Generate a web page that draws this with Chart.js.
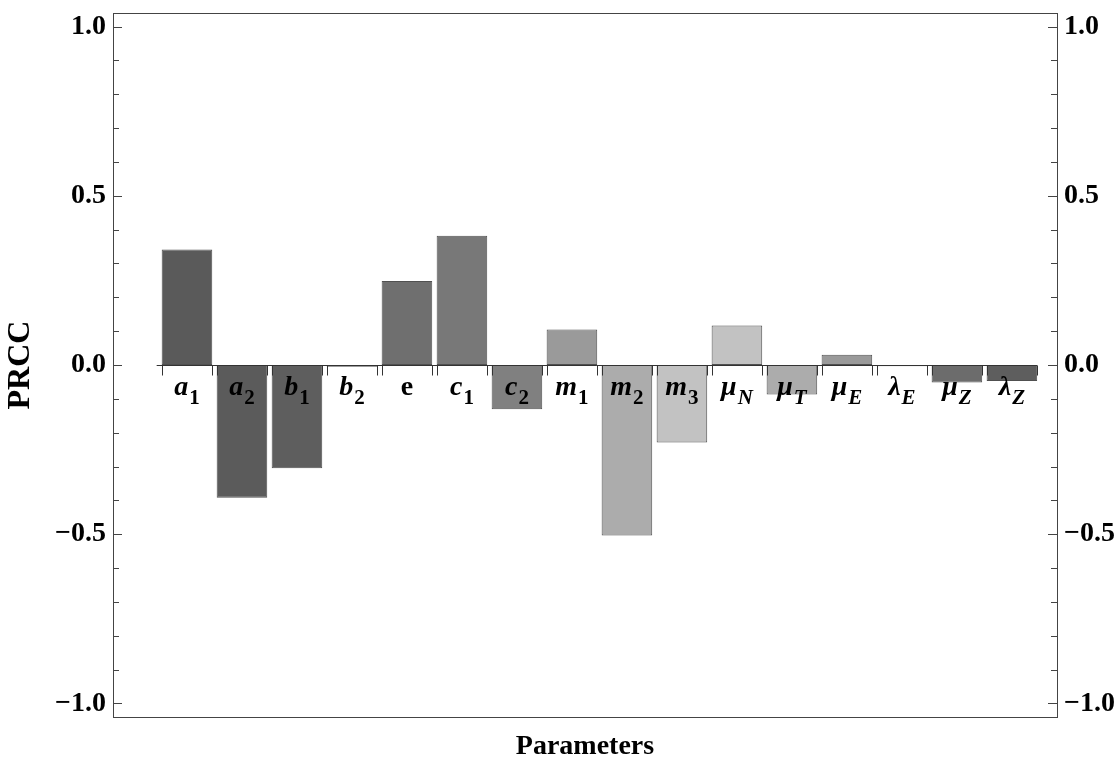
<!DOCTYPE html>
<html>
<head>
<meta charset="utf-8">
<script src="https://cdn.jsdelivr.net/npm/chart.js@4.4.1/dist/chart.umd.min.js"></script>
<style>
  html, body { margin: 0; padding: 0; background: #fff; }
  #wrap { width: 1120px; height: 761px; }
</style>
</head>
<body>
<div id="wrap"><canvas id="prcc" width="1120" height="761"></canvas></div>
<script>
// parameter names: first char is the symbol, the rest is its subscript
const params = ['a1', 'a2', 'b1', 'b2', 'e', 'c1', 'c2', 'm1', 'm2', 'm3', 'μN', 'μT', 'μE', 'λE', 'μZ', 'λZ'];
const prccValues = [0.341, -0.392, -0.305, -0.005, 0.248, 0.382, -0.131, 0.105, -0.504, -0.229, 0.117, -0.087, 0.030, -0.004, -0.052, -0.047];
const barColors = ['#5a5a5a', '#5b5b5b', '#5e5e5e', '#666666', '#6f6f6f', '#787878', '#808080', '#9a9a9a',
                   '#acacac', '#c2c2c2', '#c2c2c2', '#acacac', '#9a9a9a', '#808080', '#6c6c6c', '#5e5e5e'];
const yTicks = [-1.0, -0.9, -0.8, -0.7, -0.6, -0.5, -0.4, -0.3, -0.2, -0.1, 0.0,
                0.1, 0.2, 0.3, 0.4, 0.5, 0.6, 0.7, 0.8, 0.9, 1.0];
const majorTicks = [-1.0, -0.5, 0.0, 0.5, 1.0];
const majorLabels = ['−1.0', '−0.5', '0.0', '0.5', '1.0'];

const SERIF = '"Liberation Serif", "Times New Roman", serif';
const isMajor = v => majorTicks.some(m => Math.abs(m - v) < 1e-6);

function yAxis(pos, width, withTitle) {
  return {
    type: 'linear',
    position: pos,
    min: -1.04,
    max: 1.04,
    afterBuildTicks: s => { s.ticks = yTicks.map(v => ({ value: v })); },
    afterFit: s => { s.width = width; s.paddingTop = 0; s.paddingBottom = 0; },
    grid: { display: false, drawTicks: false },
    border: { display: false },
    ticks: {
      autoSkip: false,
      padding: 7,
      color: '#000',
      font: { family: SERIF, size: 28, weight: 'bold' },
      callback: v => {
        const i = majorTicks.findIndex(m => Math.abs(m - v) < 1e-6);
        return i < 0 ? '' : majorLabels[i];
      }
    },
    title: {
      display: withTitle,
      text: 'PRCC',
      color: '#000',
      font: { family: SERIF, size: 32, weight: 'bold', lineHeight: 1 },
      padding: { top: 5, bottom: 0 }
    }
  };
}

// frame, inward ticks, zero axis and subscripted category labels
const framePlugin = {
  id: 'frame',
  afterDatasetsDraw(chart) {
    const { ctx, chartArea: a, scales } = chart;
    const y = scales.y;
    const bars = chart.getDatasetMeta(0).data;
    const y0 = Math.round(y.getPixelForValue(0)) + 0.5;

    ctx.save();
    ctx.strokeStyle = '#333';
    ctx.lineWidth = 1;

    // zero axis line
    const first = bars[0], last = bars[bars.length - 1];
    ctx.beginPath();
    ctx.moveTo(first.x - first.width / 2 - 5, y0);
    ctx.lineTo(last.x + last.width / 2, y0);
    ctx.stroke();

    // little ticks at the edges of every bar
    ctx.beginPath();
    bars.forEach(b => {
      [b.x - b.width / 2, b.x + b.width / 2].forEach(px => {
        const xx = Math.round(px) + 0.5;
        ctx.moveTo(xx, y0);
        ctx.lineTo(xx, y0 + 10);
      });
    });
    ctx.stroke();

    // frame
    ctx.strokeStyle = '#444';
    ctx.strokeRect(Math.round(a.left) + 0.5, Math.round(a.top) + 0.5,
                   Math.round(a.width), Math.round(a.height));

    // y ticks on both sides, pointing inwards
    ctx.beginPath();
    yTicks.forEach(v => {
      const py = Math.round(y.getPixelForValue(v)) + 0.5;
      const len = isMajor(v) ? 9 : 6;
      ctx.moveTo(a.left, py); ctx.lineTo(a.left + len, py);
      ctx.moveTo(a.right, py); ctx.lineTo(a.right - len, py);
    });
    ctx.stroke();

    // category labels
    ctx.fillStyle = '#000';
    ctx.textBaseline = 'alphabetic';
    ctx.textAlign = 'left';
    params.forEach((p, i) => {
      const base = p[0], sub = p.slice(1);
      const baseFont = (base === 'e' ? '' : 'italic ') + 'bold 28px ' + SERIF;
      const subFont = (/[A-Za-z]/.test(sub) ? 'italic ' : '') + 'bold 21px ' + SERIF;
      ctx.font = baseFont;
      const wb = ctx.measureText(base).width;
      ctx.font = subFont;
      const ws = sub ? ctx.measureText(sub).width + 1 : 0;
      let x0 = bars[i].x - (wb + ws) / 2;
      ctx.font = baseFont;
      ctx.fillText(base, x0, y0 + 29);
      if (sub) {
        ctx.font = subFont;
        ctx.fillText(sub, x0 + wb + 1, y0 + 38);
      }
    });
    ctx.restore();
  }
};

new Chart(document.getElementById('prcc'), {
  type: 'bar',
  data: {
    datasets: [{
      data: prccValues.map((v, i) => ({ x: i, y: v })),
      backgroundColor: barColors,
      borderColor: '#505050',
      borderWidth: 1,
      borderSkipped: false,
      barPercentage: 0.92,
      categoryPercentage: 1
    }]
  },
  options: {
    responsive: false,
    animation: false,
    layout: { padding: { top: 13, left: 0, right: 0, bottom: 0 } },
    plugins: { legend: { display: false }, tooltip: { enabled: false } },
    scales: {
      x: {
        type: 'linear',
        offset: false,
        min: -1.345,
        max: 15.82,
        afterFit: s => { s.height = 44; },
        grid: { display: false },
        border: { display: false },
        ticks: { display: false },
        title: {
          display: true,
          text: 'Parameters',
          color: '#000',
          font: { family: SERIF, size: 28, weight: 'bold', lineHeight: 1 },
          padding: { top: 0, bottom: 0 }
        }
      },
      y: yAxis('left', 113, true),
      y2: yAxis('right', 63, false)
    }
  },
  plugins: [framePlugin]
});
</script>
</body>
</html>
